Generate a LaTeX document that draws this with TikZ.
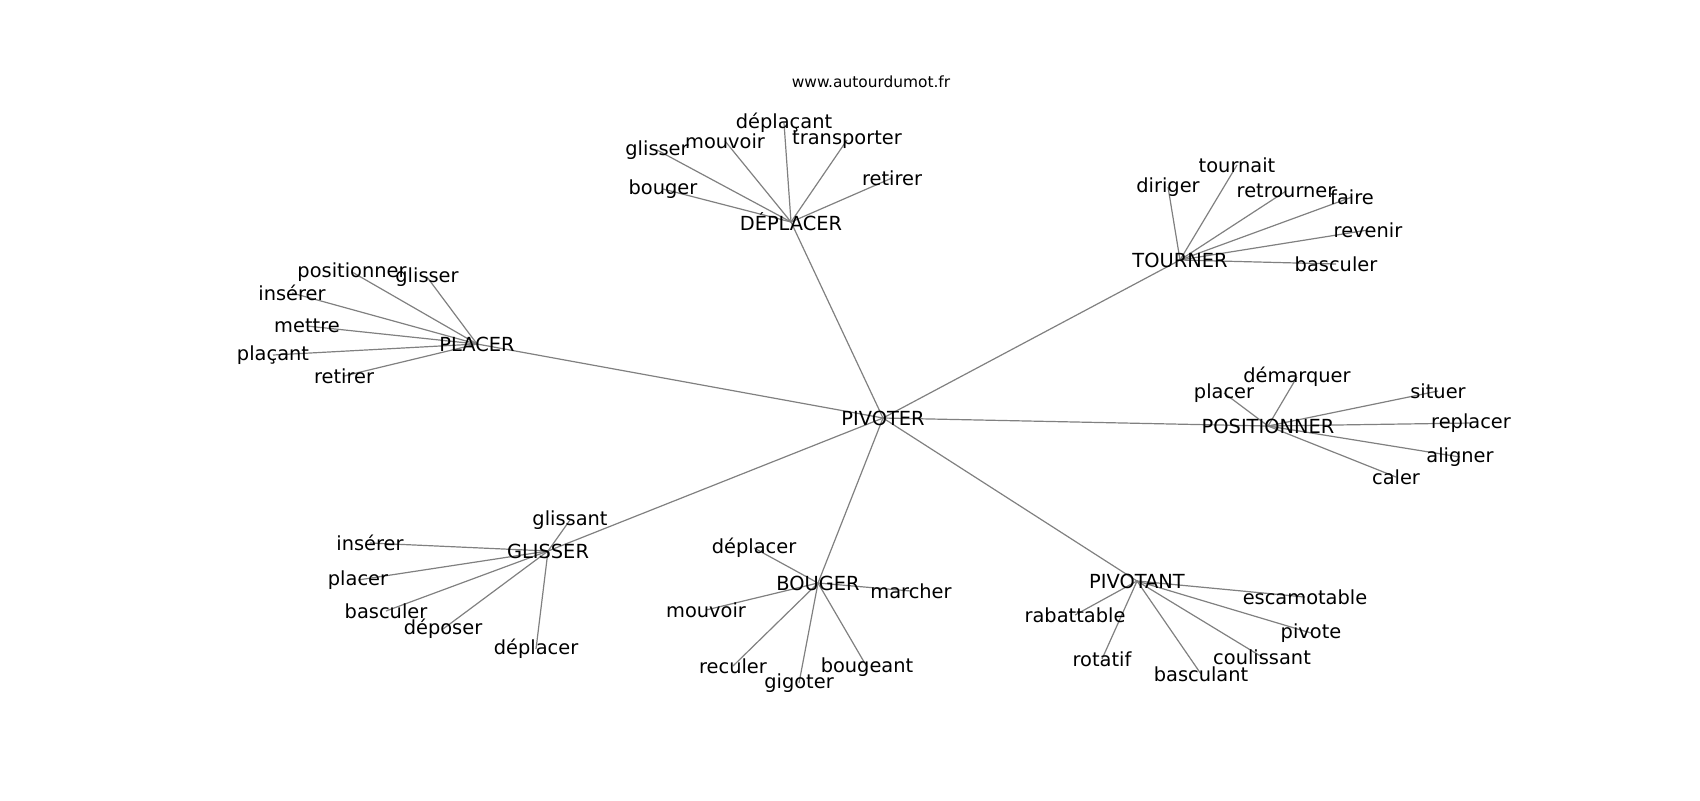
\documentclass[tikz,border=0pt]{standalone}
\usepackage{fontspec}
\setmainfont{DejaVu Sans}
\pgfdeclarelayer{background}
\pgfsetlayers{background,main}
\begin{document}
\begin{tikzpicture}[x=0.5pt,y=-0.5pt,
  lbl/.style={inner sep=0pt,font=\fontsize{9.7pt}{11pt}\selectfont,text=black},
  ttl/.style={inner sep=0pt,font=\fontsize{7.7pt}{9pt}\selectfont,text=black},
  edge/.style={draw=gray,line width=0.6pt}]
\useasboundingbox (0,0) rectangle (1700,800);
\node[ttl] (title) at (871,82) {www.autourdumot.fr};
% hubs
\node[lbl] (piv) at (883,418) {PIVOTER};
\node[lbl] (dep) at (791,222) {DÉPLACER};
\node[lbl] (tou) at (1180,260) {TOURNER};
\node[lbl] (pla) at (477,344) {PLACER};
\node[lbl] (pos) at (1268,426) {POSITIONNER};
\node[lbl] (gli) at (548,551) {GLISSER};
\node[lbl] (bou) at (818,583) {BOUGER};
\node[lbl] (pvt) at (1137,581) {PIVOTANT};
% DEPLACER leaves
\node[lbl] (d1) at (657,150) {glisser};
\node[lbl] (d2) at (725,141) {mouvoir};
\node[lbl] (d3) at (784,123) {déplaçant};
\node[lbl] (d4) at (847,140) {transporter};
\node[lbl] (d5) at (892,178) {retirer};
\node[lbl] (d6) at (663,189) {bouger};
% TOURNER leaves
\node[lbl] (t1) at (1168,187) {diriger};
\node[lbl] (t2) at (1237,165) {tournait};
\node[lbl] (t3) at (1286,191) {retrourner};
\node[lbl] (t4) at (1352,197) {faire};
\node[lbl] (t5) at (1368,230) {revenir};
\node[lbl] (t6) at (1336,264) {basculer};
% POSITIONNER leaves
\node[lbl] (p1) at (1297,377) {démarquer};
\node[lbl] (p2) at (1224,393) {placer};
\node[lbl] (p3) at (1438,391) {situer};
\node[lbl] (p4) at (1471,423) {replacer};
\node[lbl] (p5) at (1460,457) {aligner};
\node[lbl] (p6) at (1396,477) {caler};
% PLACER leaves
\node[lbl] (l1) at (352,272) {positionner};
\node[lbl] (l2) at (427,277) {glisser};
\node[lbl] (l3) at (292,293) {insérer};
\node[lbl] (l4) at (307,326) {mettre};
\node[lbl] (l5) at (273,355) {plaçant};
\node[lbl] (l6) at (344,376) {retirer};
% GLISSER leaves
\node[lbl] (g1) at (570,520) {glissant};
\node[lbl] (g2) at (370,543) {insérer};
\node[lbl] (g3) at (358,580) {placer};
\node[lbl] (g4) at (386,611) {basculer};
\node[lbl] (g5) at (443,629) {déposer};
\node[lbl] (g6) at (536,649) {déplacer};
% BOUGER leaves
\node[lbl] (b1) at (754,548) {déplacer};
\node[lbl] (b2) at (911,591) {marcher};
\node[lbl] (b3) at (706,610) {mouvoir};
\node[lbl] (b4) at (733,666) {reculer};
\node[lbl] (b5) at (799,683) {gigoter};
\node[lbl] (b6) at (867,667) {bougeant};
% PIVOTANT leaves
\node[lbl] (v1) at (1305,597) {escamotable};
\node[lbl] (v2) at (1075,615) {rabattable};
\node[lbl] (v3) at (1311,633) {pivote};
\node[lbl] (v4) at (1102,659) {rotatif};
\node[lbl] (v5) at (1262,657) {coulissant};
\node[lbl] (v6) at (1201,674) {basculant};
\begin{pgfonlayer}{background}
\foreach \h in {dep,tou,pla,pos,gli,bou,pvt}
  \draw[edge] (piv.center) -- (\h.center);
\foreach \i in {1,...,6} {
  \draw[edge] (dep.center) -- (d\i.center);
  \draw[edge] (tou.center) -- (t\i.center);
  \draw[edge] (pos.center) -- (p\i.center);
  \draw[edge] (pla.center) -- (l\i.center);
  \draw[edge] (gli.center) -- (g\i.center);
  \draw[edge] (bou.center) -- (b\i.center);
  \draw[edge] (pvt.center) -- (v\i.center);
}
\end{pgfonlayer}
\end{tikzpicture}
\end{document}
